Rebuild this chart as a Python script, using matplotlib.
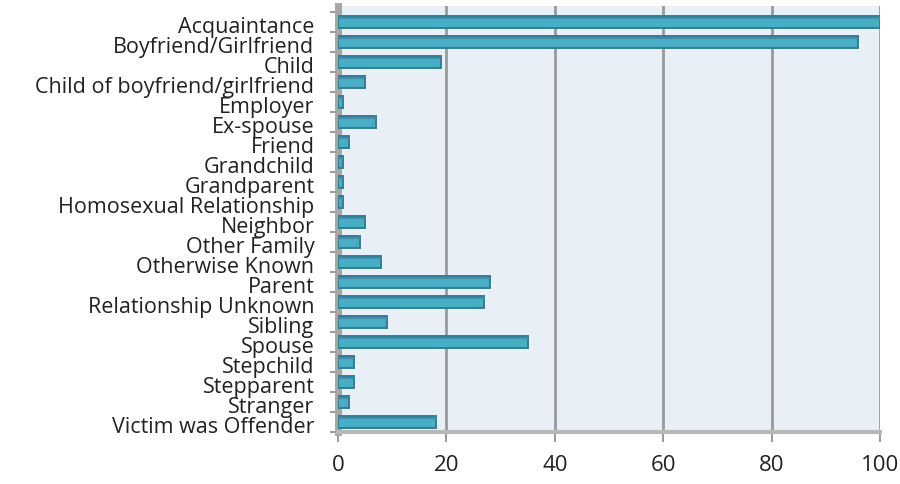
import matplotlib
matplotlib.use('Agg')
import matplotlib.pyplot as plt

categories = [
    "Acquaintance", "Boyfriend/Girlfriend", "Child", "Child of boyfriend/girlfriend",
    "Employer", "Ex-spouse", "Friend", "Grandchild", "Grandparent",
    "Homosexual Relationship", "Neighbor", "Other Family", "Otherwise Known",
    "Parent", "Relationship Unknown", "Sibling", "Spouse", "Stepchild",
    "Stepparent", "Stranger", "Victim was Offender",
]
values = [100, 96, 19, 5, 1, 7, 2, 1, 1, 1, 5, 4, 8, 28, 27, 9, 35, 3, 3, 2, 18]
x_ticks = [0, 20, 40, 60, 80, 100]

plt.rcParams['font.family'] = ['Open Sans', 'DejaVu Sans']

fig = plt.figure(figsize=(9, 4.85), dpi=100)
ax = fig.add_axes([338 / 900, 52 / 485, 542 / 900, 426 / 485])
ax.set_facecolor('#e9eff6')

n = len(categories)
pos = [p + 0.5 for p in range(n)]
ax.barh(pos, values, height=0.62, color='#4bacc6', edgecolor='#2f7f95',
        linewidth=1.4, zorder=3)
# darker top strip to fake the 3D look
ax.barh([p - 0.2 for p in pos], values, height=0.12, color='#3b8ea6',
        linewidth=0, zorder=4)

ax.set_xlim(0, 100)
ax.set_ylim(n, -0.3)
ax.set_xticks(x_ticks)
ax.set_xticklabels([str(t) for t in x_ticks], fontsize=16, color='#222222')
# labels centred in rows, tick marks on the row boundaries
ax.set_yticks([p + 0.08 for p in pos])
ax.set_yticklabels(categories, fontsize=15.5, color='#222222')
ax.set_yticks(range(n + 1), minor=True)
ax.tick_params(axis='y', which='major', length=0, pad=17)
ax.tick_params(axis='y', which='minor', length=6, color='#888888', width=1.2)
ax.tick_params(axis='x', length=7, color='#888888', width=1.2, pad=9)

for x in x_ticks[1:]:
    ax.axvline(x, color='#999999', linewidth=2, zorder=1)

for s in ['top', 'right']:
    ax.spines[s].set_visible(False)
ax.spines['left'].set_color('#a6a6a6')
ax.spines['left'].set_linewidth(5)
ax.spines['bottom'].set_color('#b8b8b8')
ax.spines['bottom'].set_linewidth(3)

fig.savefig('out.png', dpi=100)
